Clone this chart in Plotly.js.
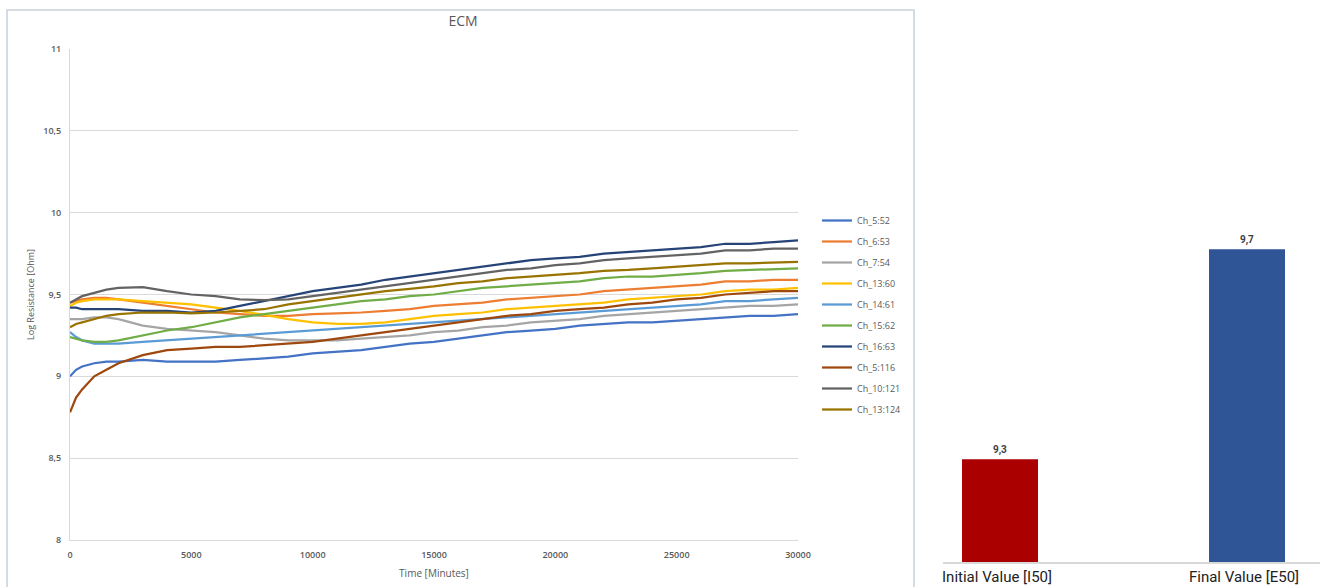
<!DOCTYPE html>
<html>
<head>
<meta charset="utf-8">
<script src="https://cdn.plot.ly/plotly-3.0.1.min.js"></script>
<style>html,body{margin:0;padding:0;background:#fff;}#chart{width:1320px;height:587px;}</style>
</head>
<body>
<div id="chart"></div>
<script>
// ---- data ----
const time = [0,250,500,1000,1500,2000,3000,4000,5000,6000,7000,8000,9000,10000,11000,12000,13000,14000,15000,16000,17000,18000,19000,20000,21000,22000,23000,24000,25000,26000,27000,28000,29000,30000];

const seriesNames = ['Ch_5:52','Ch_6:53','Ch_7:54','Ch_13:60','Ch_14:61','Ch_15:62','Ch_16:63','Ch_5:116','Ch_10:121','Ch_13:124'];
const seriesColors = ['#4472C4','#ED7D31','#A5A5A5','#FFC000','#5B9BD5','#70AD47','#264478','#9E480E','#636363','#997300'];

const ch5_52  = [9.00,9.04,9.06,9.08,9.09,9.09,9.10,9.09,9.09,9.09,9.10,9.11,9.12,9.14,9.15,9.16,9.18,9.20,9.21,9.23,9.25,9.27,9.28,9.29,9.31,9.32,9.33,9.33,9.34,9.35,9.36,9.37,9.37,9.38];
const ch6_53  = [9.45,9.46,9.47,9.48,9.48,9.47,9.45,9.43,9.41,9.39,9.38,9.37,9.37,9.38,9.385,9.39,9.40,9.41,9.43,9.44,9.45,9.47,9.48,9.49,9.50,9.52,9.53,9.54,9.55,9.56,9.58,9.58,9.59,9.59];
const ch7_54  = [9.35,9.35,9.35,9.36,9.36,9.35,9.31,9.29,9.28,9.27,9.25,9.23,9.22,9.22,9.22,9.23,9.24,9.25,9.27,9.28,9.30,9.31,9.33,9.34,9.35,9.37,9.38,9.39,9.40,9.41,9.42,9.43,9.43,9.44];
const ch13_60 = [9.43,9.45,9.46,9.47,9.47,9.47,9.46,9.45,9.44,9.42,9.40,9.375,9.35,9.33,9.32,9.32,9.33,9.35,9.37,9.38,9.39,9.41,9.42,9.43,9.44,9.45,9.47,9.48,9.49,9.50,9.52,9.53,9.53,9.54];
const ch14_61 = [9.27,9.24,9.22,9.20,9.20,9.20,9.21,9.22,9.23,9.24,9.25,9.26,9.27,9.28,9.29,9.30,9.31,9.32,9.33,9.34,9.35,9.36,9.37,9.38,9.39,9.40,9.41,9.42,9.43,9.44,9.46,9.46,9.47,9.48];
const ch15_62 = [9.24,9.23,9.22,9.21,9.21,9.22,9.25,9.28,9.30,9.33,9.36,9.38,9.40,9.42,9.44,9.46,9.47,9.49,9.50,9.52,9.54,9.55,9.56,9.57,9.58,9.60,9.61,9.61,9.62,9.63,9.645,9.65,9.655,9.66];
const ch16_63 = [9.42,9.42,9.41,9.41,9.41,9.41,9.40,9.40,9.39,9.40,9.43,9.46,9.49,9.52,9.54,9.56,9.59,9.61,9.63,9.65,9.67,9.69,9.71,9.72,9.73,9.75,9.76,9.77,9.78,9.79,9.81,9.81,9.82,9.83];
const ch5_116 = [8.78,8.87,8.92,9.00,9.04,9.08,9.13,9.16,9.17,9.18,9.18,9.19,9.20,9.21,9.23,9.25,9.27,9.29,9.31,9.33,9.35,9.37,9.38,9.40,9.41,9.42,9.44,9.45,9.47,9.48,9.50,9.51,9.52,9.52];
const ch10_121= [9.45,9.47,9.49,9.51,9.53,9.54,9.545,9.52,9.50,9.49,9.47,9.465,9.47,9.49,9.51,9.53,9.55,9.57,9.59,9.61,9.63,9.65,9.66,9.68,9.69,9.71,9.72,9.73,9.74,9.75,9.77,9.77,9.78,9.78];
const ch13_124= [9.30,9.32,9.33,9.35,9.37,9.38,9.39,9.39,9.385,9.39,9.40,9.41,9.44,9.46,9.48,9.50,9.52,9.535,9.55,9.57,9.58,9.60,9.61,9.62,9.63,9.645,9.65,9.66,9.67,9.68,9.69,9.69,9.695,9.70];

const seriesValues = [ch5_52,ch6_53,ch7_54,ch13_60,ch14_61,ch15_62,ch16_63,ch5_116,ch10_121,ch13_124];

const xTickVals = [0,5000,10000,15000,20000,25000,30000];

const barCategories = ['Initial Value [I50]','Final Value [E50]'];
const barValues = [9.3, 9.7];
const barColors = ['#AA0000','#2F5597'];

// ---- traces ----
const W = 1320, H = 587;
const px = v => v / W;
const py = v => (H - v) / H;

const traces = seriesNames.map((name, i) => ({
  type: 'scatter', mode: 'lines', name: name,
  x: time, y: seriesValues[i],
  line: {color: seriesColors[i], width: 2.25},
  legendgroup: 'g' + i,
  xaxis: 'x', yaxis: 'y', hoverinfo: 'skip'
}));

traces.push({
  type: 'bar', x: barCategories, y: barValues,
  marker: {color: barColors},
  width: 0.3077,
  texttemplate: '%{y:.1f}', textposition: 'outside',
  textfont: {family: 'Roboto', size: 10, color: '#404040', weight: 700},
  cliponaxis: false,
  xaxis: 'x2', yaxis: 'y2', showlegend: false, hoverinfo: 'skip'
});

const gridCol = '#d9d9d9';
const tickFont = {family: 'Open Sans', size: 9, color: '#595959', weight: 600};

const layout = {
  width: W, height: H, autosize: false,
  margin: {l: 0, r: 0, t: 0, b: 0, pad: 0},
  paper_bgcolor: '#ffffff', plot_bgcolor: 'rgba(0,0,0,0)',
  separators: ',.',
  showlegend: true,
  title: {text: 'ECM', x: px(463), xanchor: 'center', y: py(21), yanchor: 'middle',
          font: {family: 'Open Sans', size: 14, color: '#595959'}},
  xaxis: {
    domain: [px(70), px(798)], range: [0, 30000], anchor: 'y',
    tickvals: xTickVals, tickformat: 'd', ticks: '', showgrid: false, zeroline: false,
    showline: true, linecolor: gridCol, linewidth: 1,
    tickfont: tickFont, ticklabelstandoff: 6, automargin: false,
    title: {text: 'Time [Minutes]', font: {family: 'Open Sans', size: 10, color: '#595959'}, standoff: 10}
  },
  yaxis: {
    domain: [py(540), py(49)], range: [8, 11], dtick: 0.5, anchor: 'x',
    ticks: '', showgrid: true, gridcolor: gridCol, gridwidth: 1, zeroline: false,
    showline: true, linecolor: gridCol, linewidth: 1,
    tickfont: tickFont, ticklabelstandoff: 6, automargin: false,
    title: {text: 'Log Resistance [Ohm]', font: {family: 'Open Sans', size: 9, color: '#595959'}, standoff: 7}
  },
  xaxis2: {
    domain: [px(943), 1], range: [-0.2308, 1.2955], type: 'category', anchor: 'y2',
    ticks: '', showgrid: false, zeroline: false,
    showline: true, linecolor: gridCol, linewidth: 2,
    tickfont: {family: 'Roboto', size: 15, color: '#222222', weight: 400},
    ticklabelstandoff: 0, ticklabelshift: -3, automargin: false
  },
  yaxis2: {
    domain: [py(562), py(200)], range: [9.104, 9.794], anchor: 'x2',
    visible: false, showgrid: false, zeroline: false, fixedrange: true
  },
  legend: {
    x: px(817), xanchor: 'left', y: py(206), yanchor: 'top',
    font: {family: 'Open Sans', size: 9, color: '#595959'},
    tracegroupgap: 2, traceorder: 'grouped', bgcolor: 'rgba(0,0,0,0)'
  },
  shapes: [
    {type: 'rect', xref: 'paper', yref: 'paper', x0: px(7), x1: px(914), y0: py(10), y1: -0.05,
     line: {color: '#c7d0da', width: 1.5}, fillcolor: 'rgba(0,0,0,0)', layer: 'below'}
  ]
};

Plotly.newPlot('chart', traces, layout, {staticPlot: true, displayModeBar: false});
</script>
</body>
</html>
